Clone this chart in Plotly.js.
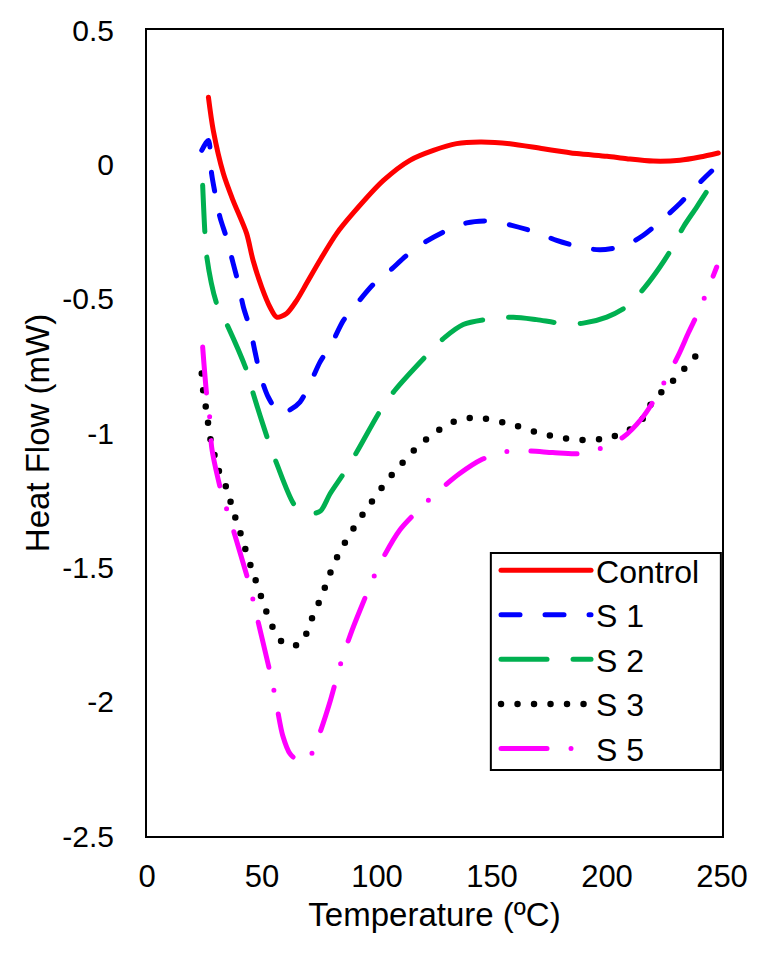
<!DOCTYPE html>
<html>
<head>
<meta charset="utf-8">
<script src="https://cdn.plot.ly/plotly-3.0.1.min.js"></script>
<style>
html,body{margin:0;padding:0;background:#fff;}
#chart{width:776px;height:955px;}
.js-line{stroke-linecap:round;stroke-linejoin:round;}
</style>
</head>
<body>
<div id="chart"></div>
<script>
// ---- data (Temperature in ºC, Heat Flow in mW) ----
const seriesNames = ["Control", "S 1", "S 2", "S 3", "S 5"];

const controlT = [26.7, 28.8, 33.2, 37.4, 43.3, 46.1, 49.9, 53.5, 56.4, 60.7, 65.1, 69.4, 75.2, 82.5, 89.6, 102.8, 114.3, 124.5, 134.6, 144.8, 157.8, 172.3, 186.8, 200, 208.6, 220.1, 231.7, 240.4, 248.4];
const controlHF = [0.250, 0.127, -0.034, -0.134, -0.257, -0.357, -0.458, -0.532, -0.569, -0.555, -0.506, -0.443, -0.357, -0.257, -0.182, -0.060, 0.015, 0.052, 0.077, 0.083, 0.077, 0.058, 0.040, 0.030, 0.021, 0.012, 0.015, 0.027, 0.042];

const s1T = [23.8, 26.7, 28.1, 29.6, 31.7, 34.7, 37.5, 39.7, 41.9, 44.8, 47.0, 49.1, 52.7, 57.8, 62, 66.5, 70.9, 75.2, 80.3, 85.4, 91.2, 98.4, 105.7, 112.9, 120.9, 130.3, 139.0, 149.1, 158.6, 168.7, 178.1, 188.3, 197.0, 207.8, 215.8, 224.5, 231.7, 238.3, 245.5];
const s1HF = [0.052, 0.089, -0.035, -0.108, -0.196, -0.277, -0.370, -0.443, -0.531, -0.611, -0.699, -0.779, -0.866, -0.928, -0.915, -0.885, -0.816, -0.736, -0.667, -0.581, -0.519, -0.447, -0.395, -0.339, -0.289, -0.246, -0.218, -0.211, -0.227, -0.252, -0.283, -0.308, -0.318, -0.302, -0.264, -0.202, -0.146, -0.085, -0.025];

const s2T = [24.2, 25.2, 26.0, 30.3, 35.3, 43.3, 46.2, 52.7, 56.4, 64.3, 68.7, 72, 75.5, 79.6, 85.4, 91.2, 101.3, 107.8, 121.6, 129.6, 137.5, 147.7, 159.3, 169.4, 179.6, 189.7, 199.9, 209.3, 216.5, 223.0, 228.1, 233.2, 239.0, 244.8];
const s2HF = [-0.078, -0.258, -0.345, -0.519, -0.606, -0.767, -0.854, -1.028, -1.114, -1.270, -1.294, -1.300, -1.290, -1.226, -1.152, -1.071, -0.919, -0.841, -0.711, -0.643, -0.596, -0.577, -0.569, -0.578, -0.591, -0.591, -0.569, -0.525, -0.457, -0.382, -0.314, -0.233, -0.159, -0.082];

const s3T = [23.8, 24.5, 25.7, 26.7, 27.7, 29.6, 31.7, 34.7, 36.8, 38.9, 41.2, 43.3, 45.5, 48.0, 50.3, 52.7, 55.7, 60.0, 66.8, 70.1, 72.6, 75.7, 78.1, 80.7, 83.9, 87.5, 91.4, 95.5, 99.9, 104.2, 108.8, 113.6, 119.0, 124.8, 130.6, 137.5, 144.8, 151.7, 159.0, 165.8, 173.0, 180.0, 187.5, 194.8, 202.0, 208.6, 214.6, 218, 222.3, 227.4, 232.5, 237.5, 242.6];
const s3HF = [-0.779, -0.848, -0.910, -0.972, -1.028, -1.090, -1.152, -1.207, -1.270, -1.328, -1.387, -1.447, -1.505, -1.567, -1.626, -1.683, -1.741, -1.787, -1.785, -1.729, -1.670, -1.613, -1.557, -1.499, -1.441, -1.387, -1.334, -1.282, -1.230, -1.179, -1.133, -1.087, -1.040, -1.003, -0.968, -0.948, -0.943, -0.955, -0.968, -0.988, -1.005, -1.018, -1.025, -1.025, -1.015, -0.993, -0.959, -0.905, -0.860, -0.817, -0.771, -0.723, -0.680];

const s5T = [24.2, 25.9, 27.4, 28.1, 32.5, 35.8, 38.9, 44.8, 47.4, 49.9, 54.6, 56.7, 59.0, 62.2, 67.2, 71.6, 75.7, 79.3, 84.6, 88.3, 92.6, 100.6, 110, 122.3, 127.4, 135.8, 145.5, 154.9, 165.8, 176.4, 187.5, 197.0, 207.1, 215.0, 220.9, 231.0, 235.4, 240.4, 247.7];
const s5HF = [-0.680, -0.854, -0.953, -1.052, -1.226, -1.313, -1.400, -1.574, -1.670, -1.760, -1.933, -2.029, -2.126, -2.194, -2.225, -2.194, -2.103, -2.008, -1.847, -1.754, -1.660, -1.499, -1.360, -1.251, -1.211, -1.152, -1.099, -1.071, -1.067, -1.073, -1.077, -1.058, -1.015, -0.947, -0.872, -0.711, -0.627, -0.537, -0.382];

const xTickVals = [0, 50, 100, 150, 200, 250];
const xTickText = ["0", "50", "100", "150", "200", "250"];
const yTickVals = [0.5, 0, -0.5, -1, -1.5, -2, -2.5];
const yTickText = ["0.5", "0", "-0.5", "-1", "-1.5", "-2", "-2.5"];

// ---- styles ----
const FONT = "'Liberation Sans', Arial, sans-serif";
const styles = [
  {color: "#FF0000", dash: "solid", width: 5},
  {color: "#0000FF", dash: "19px,25px", width: 5},
  {color: "#00B050", dash: "46px,26px", width: 5},
  {color: "#000000", dash: "0px,16.5px", width: 6.5},
  {color: "#FF00FF", dash: "46px,24px,0px,24px", width: 5}
];
const xs = [controlT, s1T, s2T, s3T, s5T];
const ys = [controlHF, s1HF, s2HF, s3HF, s5HF];

const traces = seriesNames.map((n, i) => ({
  type: "scatter",
  mode: "lines",
  name: n,
  x: xs[i],
  y: ys[i],
  line: {color: styles[i].color, dash: styles[i].dash, width: styles[i].width, shape: "spline", smoothing: 0.8}
}));

const layout = {
  width: 776,
  height: 955,
  margin: {l: 147, r: 54, t: 30, b: 119},
  paper_bgcolor: "#fff",
  plot_bgcolor: "#fff",
  font: {family: FONT, size: 30, color: "#000"},
  showlegend: true,
  legend: {
    x: 0.607, y: 0.3637, xanchor: "left", yanchor: "top",
    bgcolor: "rgba(0,0,0,0)", borderwidth: 0,
    font: {family: FONT, size: 32, color: "#000"},
    itemwidth: 90,
    tracegroupgap: 0
  },
  xaxis: {
    range: [0, 250],
    tickvals: xTickVals, ticktext: xTickText,
    ticks: "", showgrid: false, zeroline: false,
    showline: true, linecolor: "#000", linewidth: 2, mirror: true,
    ticklabelstandoff: 12,
    tickfont: {family: FONT, size: 31, color: "#000"},
    title: {text: "Temperature (ºC)", font: {family: FONT, size: 33, color: "#000"}, standoff: 10}
  },
  yaxis: {
    range: [-2.5, 0.5],
    tickvals: yTickVals, ticktext: yTickText,
    ticks: "", showgrid: false, zeroline: false,
    showline: true, linecolor: "#000", linewidth: 2, mirror: true,
    ticklabelstandoff: 25,
    tickfont: {family: FONT, size: 30, color: "#000"},
    title: {text: "Heat Flow (mW)", font: {family: FONT, size: 33, color: "#000"}, standoff: 3}
  },
  shapes: [
    {type: "line", xref: "x", yref: "y", x0: -1.6, x1: 1.2, y0: 0, y1: 0, layer: "above", line: {color: "#fff", width: 3}},
    {type: "line", xref: "x", yref: "y", x0: 248.8, x1: 251.2, y0: 0, y1: 0, layer: "above", line: {color: "#fff", width: 3}},
    {type: "rect", xref: "paper", yref: "paper", x0: 0.598, x1: 0.998, y0: 0.082, y1: 0.351, layer: "above", fillcolor: "#fff", line: {color: "#000", width: 2}}
  ]
};

Plotly.newPlot("chart", traces, layout, {displayModeBar: false, staticPlot: true});
</script>
</body>
</html>
